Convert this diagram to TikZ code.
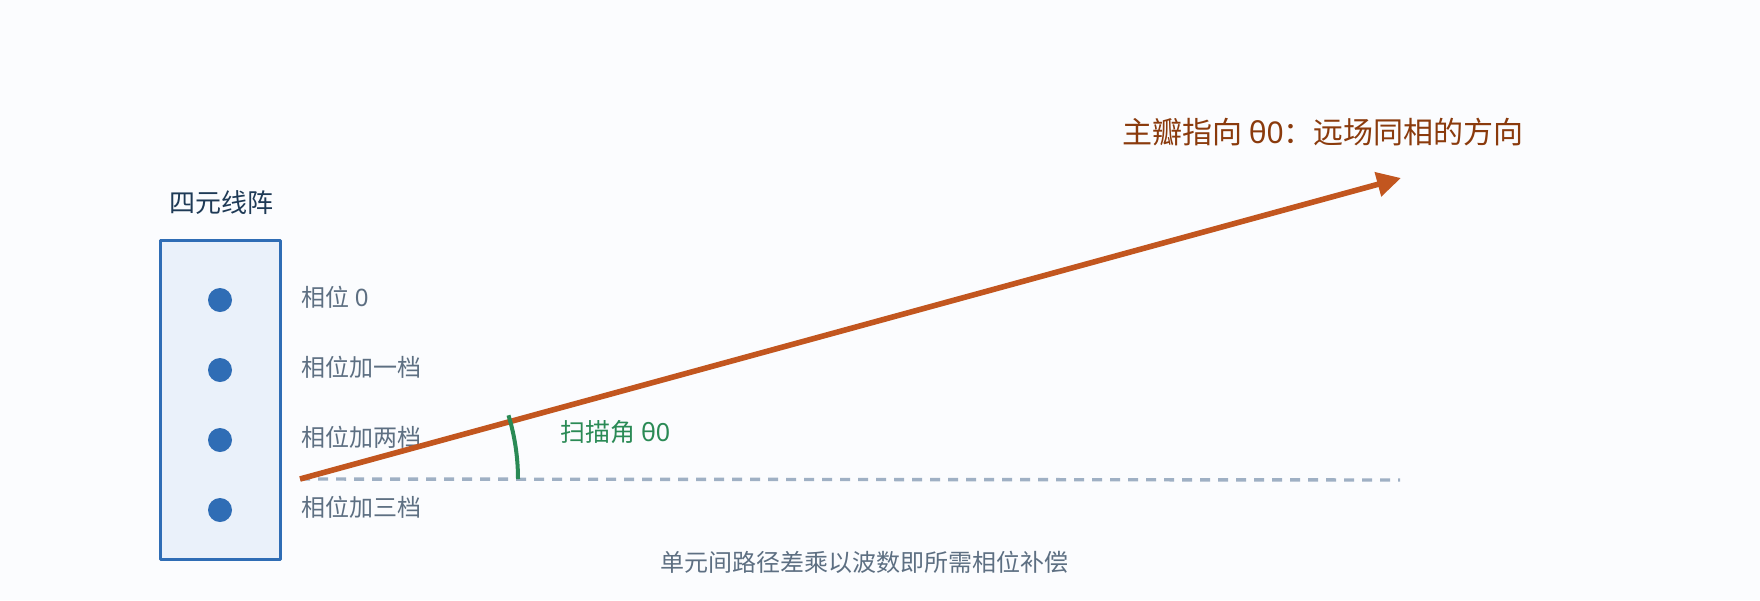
\documentclass[tikz,border=0pt]{standalone}
\usepackage{fontspec}
\setmainfont{Noto Sans CJK SC}
\newfontfamily\latinf{Noto Sans}
\usetikzlibrary{arrows.meta}
\definecolor{bgc}{HTML}{FBFCFE}
\definecolor{boxblue}{HTML}{2F6DB5}
\definecolor{boxfill}{HTML}{EAF1FA}
\definecolor{labgray}{HTML}{5D6F82}
\definecolor{darktitle}{HTML}{1E3A56}
\definecolor{beam}{HTML}{C2561F}
\definecolor{beamtext}{HTML}{8A3A0C}
\definecolor{refgray}{HTML}{9FB0C4}
\definecolor{scangreen}{HTML}{2A8A55}
\newcommand{\lat}[1]{{\latinf #1}}
\tikzset{
	elem/.style={circle,fill=boxblue,inner sep=0pt,minimum size=12pt},
	phase/.style={anchor=west,inner sep=0pt,text=labgray,font=\fontsize{12}{14}\selectfont},
}
\begin{document}
\begin{tikzpicture}[x=0.5pt,y=-0.5pt,>=stealth, line join=round]
		% pixel coordinates, y downwards
		\fill[bgc] (0,0) rectangle (1760,600);
		\useasboundingbox (0,0) rectangle (1760,600);
		\def\ox{300} \def\oy{479}
		%\draw[color=gray!50,dashed] (0,0) grid[step=100] (1760,600);
		\draw[boxblue,fill=boxfill,line width=1.5pt] (160,240) rectangle (280,559);
		\node[text=darktitle,font=\fontsize{13}{15}\selectfont] (arr) at (221,203) {四元线阵};
		\foreach \i/\y/\t in {1/300/相位 \lat{0},2/370/相位加一档,3/440/相位加两档,4/510/相位加三档}{
			\node[elem] (e\i) at (220,\y) {};
			\node[phase] (p\i) at (301,\y-3) {\t};
		}
		\coordinate (O) at (\ox,\oy);
		\coordinate (ref) at (1400,480);
		\coordinate (tip) at (1401,178);
		% reference line
		\draw[refgray,line width=1.7pt,dash pattern=on 5pt off 4pt] (O) -- (ref);
		% main beam
		\draw[-{Triangle[length=12pt,width=12pt]},beam,line width=2.8pt] (O) -- (tip);
		% scan angle
		\draw[scangreen,line width=2pt] (O) ++(0:218) arc[start angle=0,end angle=-17,radius=218];
		\node[anchor=west,inner sep=0pt,text=scangreen,font=\fontsize{12.5}{14}\selectfont] (ang) at (560,432) {扫描角 \lat{θ0}};
		\node[text=beamtext,font=\fontsize{15}{17}\selectfont] (main) at (1323,132) {主瓣指向 \lat{θ0}：远场同相的方向};
		\node[text=labgray,font=\fontsize{12}{14}\selectfont] (note) at (864,562) {单元间路径差乘以波数即所需相位补偿};
	\end{tikzpicture}
\end{document}
